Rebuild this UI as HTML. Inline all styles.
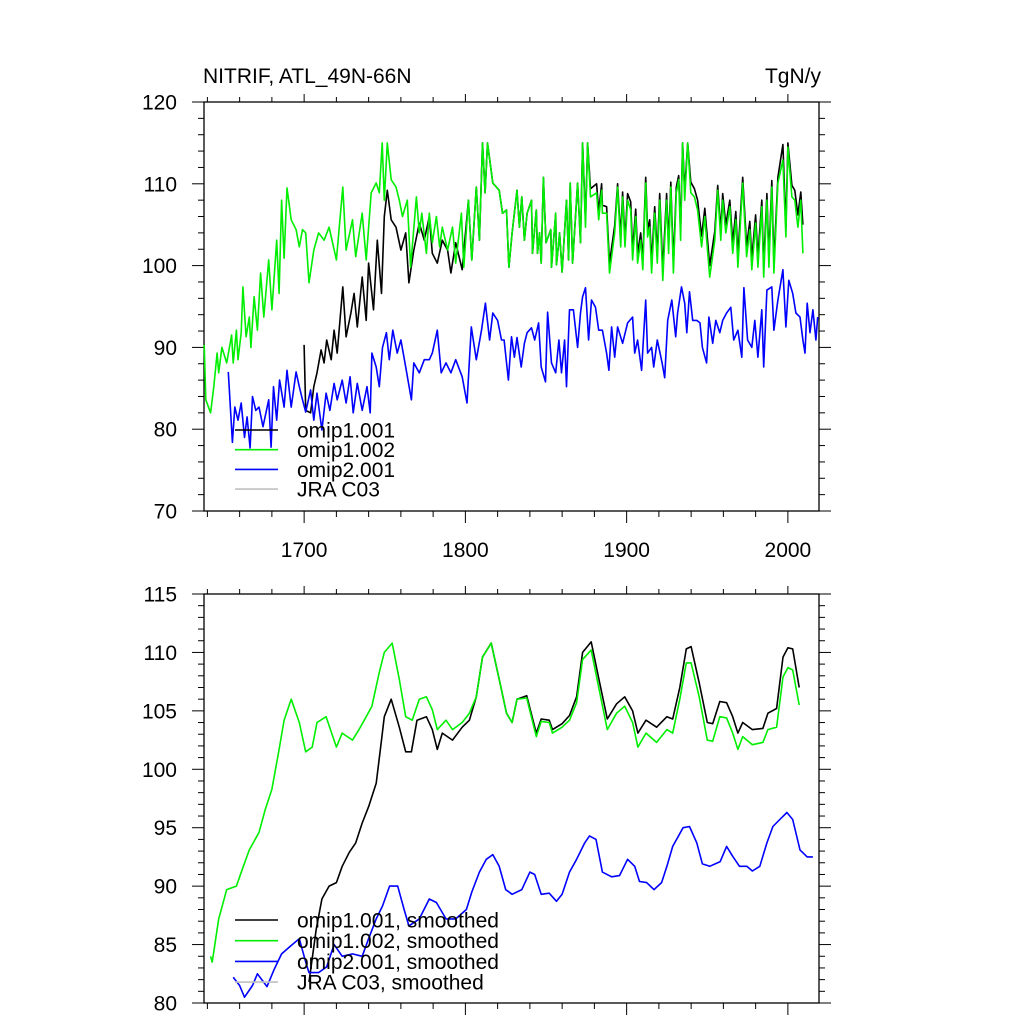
<!DOCTYPE html>
<html><head><meta charset="utf-8"><style>
html,body{margin:0;padding:0;background:#fff;}
svg{display:block;font-family:"Liberation Sans",Arial,sans-serif;}
</style></head><body>
<svg id="chart" width="1024" height="1024" viewBox="0 0 1024 1024" xmlns="http://www.w3.org/2000/svg">
<rect x="0" y="0" width="1024" height="1024" fill="#fff"/>
<text x="203" y="83" font-size="21">NITRIF, ATL_49N-66N</text>
<text x="821" y="83" font-size="21" text-anchor="end">TgN/y</text>
<g id="top"></g>
<g id="bot"></g>
</svg>
<script>
// ---- Top panel data (annual) ----
const topGreenYears = [1638,1639,1642,1644,1646,1647,1649,1652,1655,1656,1658,1659,1661,1662,1664,1666,1667,1669,1671,1673,1675,1678,1680,1683,1684.5,1686,1687.6,1689.4,1692,1695,1697,1699,1701,1703,1706,1709,1712.4,1715.5,1720,1724,1726,1730,1732,1736,1738.5,1741.6,1744.7,1746.6,1748.4,1749.7,1751.6,1754,1757,1759,1761,1764,1766,1769.6,1771.4,1773,1775.8,1777.6,1779.5,1782,1784,1785.7,1789,1792,1794,1797.5,1799,1801.9,1804,1806.8,1808.7,1810.6,1812.2,1813.7,1817,1821,1823,1825.5,1827,1829,1832,1833.5,1835,1836.6,1838.3,1841,1841.6,1844,1844.7,1846,1847,1848.4,1850,1853,1853.4,1856,1856.5,1858.4,1860,1862.7,1864,1865,1866.5,1869.6,1871.4,1872.7,1874.5,1875.8,1877.6,1881.4,1882.7,1884.5,1885,1887.6,1889.4,1892.6,1894.4,1896.3,1897.5,1899,1900.6,1902.5,1903.7,1905.6,1906.8,1908.7,1910,1911.8,1913,1914.3,1915.5,1917.4,1919,1920.5,1922.4,1924.8,1926,1927.4,1929,1930.8,1932.3,1933.5,1934.7,1936,1937.9,1939.8,1942,1944,1946.5,1948.5,1951.5,1954.7,1956.5,1958.4,1959.6,1961.5,1964,1965.8,1967.7,1969,1972,1974.4,1976.4,1977.6,1980,1981.4,1983.8,1985,1987,1988.2,1990,1991.3,1993.8,1996.9,1998.8,2000,2002.5,2004.3,2006.2,2008,2009.3];
const topGreenVals = [90.3,83.6,82.0,85.2,89.3,86.9,90.0,88.1,91.5,88.1,92.1,88.5,91.8,97.4,91.3,93.7,90.0,96.2,92.1,99.1,93.7,100.7,94.6,103.1,96.6,108.0,100.9,109.5,105.6,104.4,102.3,104.4,104.0,97.9,101.9,104.0,103.1,104.7,100.7,109.6,101.9,105.6,101.1,106.4,100.7,108.9,110.1,108.9,115.0,108.0,115.0,110.5,109.6,108.0,106.0,108.0,99.8,108.4,104.0,106.4,101.5,106.4,102.8,106.0,102.3,104.7,101.9,104.7,100.3,106.4,99.8,108.0,100.7,109.6,103.1,115.0,108.9,115.0,110.1,109.2,106.4,106.8,99.8,104.0,109.2,104.7,108.4,103.1,106.4,108.0,101.5,106.8,101.5,104.0,100.3,110.8,102.8,104.4,99.8,106.4,100.1,104.0,99.2,108.0,100.7,110.1,100.3,110.1,102.8,115.0,104.7,115.0,108.4,108.9,105.6,109.2,106.4,106.4,99.1,104.0,109.6,102.3,108.4,102.3,108.0,106.8,100.7,106.0,100.3,103.1,99.5,110.1,103.5,104.7,99.1,106.4,100.3,108.0,98.2,108.0,101.5,109.6,99.1,108.9,110.5,103.1,115.0,108.0,115.0,108.9,108.4,106.8,102.3,106.0,98.6,103.1,109.2,103.1,108.0,104.0,107.2,101.5,105.6,99.8,110.1,101.1,104.4,99.5,105.2,99.8,107.2,98.6,108.0,99.8,109.6,99.1,110.1,112.9,103.5,114.5,108.4,108.0,104.7,108.0,101.5];
const topBlackYears = [1700,1701,1704,1706,1708,1710.5,1712.4,1714,1716.8,1718.6,1720.5,1724,1726,1729,1731,1733,1736,1738.5,1740,1743,1745.4,1748,1749.7,1751.6,1754,1757,1760,1763,1765,1768,1771.4,1774.5,1777.6,1779.5,1782.6,1785.7,1789,1791,1794,1798,1801.9,1804,1806.8,1808.7,1810.6,1812.2,1813.7,1817,1821,1823,1825.5,1827,1829,1832,1833.5,1835,1836.6,1838.3,1841,1841.6,1844,1844.7,1846,1847,1848.4,1850,1853,1853.4,1856,1856.5,1858.4,1860,1862.7,1864,1865,1866.5,1869.6,1871.4,1872.7,1874.5,1875.8,1877.6,1881.4,1882.7,1884.5,1885,1887.6,1889.4,1892.6,1894.4,1896.3,1897.5,1899,1900.6,1902.5,1903.7,1905.6,1906.8,1908.7,1910,1911.8,1913,1914.3,1915.5,1917.4,1919,1920.5,1922.4,1924.8,1926,1927.4,1929,1930.8,1932.3,1933.5,1934.7,1936,1937.9,1939.8,1942,1944,1946.5,1948.5,1951.5,1954.7,1956.5,1958.4,1959.6,1961.5,1964,1965.8,1967.7,1969,1972,1974.4,1976.4,1977.6,1980,1981.4,1983.8,1985,1987,1988.2,1990,1991.3,1993.8,1996.9,1998.8,2000,2002.5,2004.3,2006.2,2008,2009.3];
const topBlackVals = [90.3,82.3,82.0,85.2,86.9,89.7,88.1,90.9,88.5,92.1,89.3,97.4,91.3,94.2,96.6,92.5,98.6,93.3,100.3,94.6,103.1,96.6,106.0,109.2,105.6,104.7,101.9,104.0,97.9,101.9,105.2,103.1,106.0,101.5,100.3,103.1,101.9,99.1,102.8,99.5,108.0,100.7,109.6,103.1,115.0,108.9,115.0,110.1,109.2,106.4,106.8,99.8,104.0,109.2,104.7,108.4,103.1,106.4,108.0,101.5,106.8,101.5,104.0,100.3,110.8,102.8,104.4,99.8,106.4,100.1,104.0,99.2,108.0,100.7,110.1,100.3,110.1,102.8,115.0,105.5,115.0,109.4,110.0,106.6,110.0,107.4,107.2,100.3,104.9,110.0,103.4,109.0,103.2,108.8,107.8,101.8,106.9,101.5,104.0,100.6,110.8,104.4,105.6,100.4,107.2,101.5,108.8,99.5,108.8,102.6,110.2,100.3,109.6,111.0,104.2,115.0,109.2,115.0,110.2,109.4,108.0,103.6,107.0,100.0,104.2,109.8,104.2,108.8,105.0,108.0,102.8,106.6,101.2,110.8,102.4,105.4,100.8,106.2,101.0,108.0,100.0,108.8,101.0,110.4,100.4,110.8,114.8,104.6,115.0,109.8,109.2,106.2,109.0,105.0];
const topBlueYears = [1653,1655.5,1657,1659,1661,1663,1664.6,1666.5,1668,1670,1672,1674.5,1678,1679.5,1681,1683,1684.8,1687.6,1689.4,1692,1695,1697,1699,1701,1704,1706,1708,1711,1713.6,1716,1718.6,1720.5,1723.6,1726,1728.5,1730.4,1733,1736,1739,1741,1742,1744.7,1746.6,1748.6,1751,1752.8,1755,1757.7,1760,1763,1766.5,1768,1771.4,1774.5,1777.6,1779.5,1782.6,1785,1788,1791,1794,1798,1801,1803.7,1806.8,1810,1812.4,1815,1817,1820,1822.4,1824,1826.7,1828.6,1830.4,1832,1834.6,1836.6,1838.3,1841,1843,1845.4,1847,1849.7,1851,1853.4,1856,1858,1859.6,1861.5,1862.7,1864.6,1867,1869.6,1871.4,1872.7,1874.5,1876.4,1878.2,1880.7,1882.7,1885,1887.6,1889,1890.7,1892.6,1894.4,1897.5,1900.6,1903.7,1905,1906.8,1909.3,1911.8,1913,1915.5,1916.8,1919,1922,1923.6,1925.5,1928,1930.4,1931.6,1934,1936,1937.3,1939,1941,1943.5,1945.5,1947,1949.6,1951,1953.4,1955.3,1957.8,1959.6,1962,1964.6,1966.4,1969,1971.4,1972.7,1975,1977.6,1979.5,1981.4,1983.8,1985,1987,1990,1991.3,1993.8,1996.9,1998.8,2000.6,2003,2005,2007.5,2009.3,2010.6,2012,2013.7,2015.5,2017.4,2018.5];
const topBlueVals = [87.0,78.4,82.7,81.1,83.2,79.0,81.5,77.7,84.0,82.3,82.7,80.3,83.6,77.8,85.2,81.1,86.0,82.7,87.2,82.7,87.0,85.2,83.6,82.1,84.8,81.1,84.4,79.9,84.4,82.3,85.6,83.6,86.0,83.2,86.4,82.0,85.6,82.3,85.2,82.0,89.3,87.6,85.2,90.0,91.8,88.5,92.1,89.3,90.9,87.6,83.6,88.1,86.9,88.5,88.5,89.3,92.1,86.9,88.1,86.9,88.5,86.4,83.2,92.5,88.5,92.1,95.4,90.9,94.2,93.3,90.9,90.9,86.0,91.3,88.8,91.2,87.6,90.5,91.8,92.4,90.9,93.0,87.6,85.8,94.3,88.1,86.9,90.9,86.9,90.9,85.2,94.6,94.6,90.0,94.2,96.2,97.3,90.9,95.8,94.9,92.1,92.1,89.3,87.2,92.5,88.8,92.5,90.5,93.0,93.7,89.3,90.9,87.2,95.8,89.3,90.0,87.6,90.9,88.1,86.3,93.3,95.8,91.3,94.2,97.4,95.4,91.8,96.8,93.3,93.3,93.0,90.0,88.1,93.7,90.5,93.3,91.8,93.3,94.2,94.9,90.9,92.1,88.8,97.3,90.9,90.0,93.3,88.8,94.6,87.6,97.0,97.4,92.1,95.8,99.5,92.5,98.2,96.6,94.2,93.7,90.9,89.3,95.4,91.8,94.6,90.9,93.7];

// ---- Bottom panel data (smoothed) ----
const botGreenYears = [1642,1643,1647,1652,1658,1661.5,1666,1672,1676,1680,1684.5,1687.6,1692,1697,1701,1705,1708,1713.6,1720,1723.6,1730,1734,1738.5,1742,1746.6,1749.7,1754.6,1759,1763,1767,1771.4,1775.8,1779.5,1782.6,1788,1792,1798,1802.5,1806.8,1810.6,1816,1821,1825.5,1829,1832,1838,1844,1847,1852,1854,1860,1864.6,1869,1872.7,1878,1883,1888,1893.8,1898.8,1903.7,1907,1912,1918.6,1925,1928.6,1933,1937,1940,1945,1950,1953.4,1957.8,1962,1965.8,1969,1972,1978,1984.5,1987.6,1993,1997,2000,2003,2007];
const botGreenVals = [84.0,83.5,87.2,89.7,90.0,91.4,93.1,94.6,96.6,98.3,101.7,104.2,106.0,104.0,101.5,101.9,104.0,104.5,101.9,103.1,102.5,103.4,104.5,105.4,108.3,110.0,110.8,107.7,104.5,104.2,106.0,106.2,105.1,103.4,104.2,103.4,104.0,104.8,106.2,109.6,110.8,107.7,104.8,104.0,106.0,106.1,102.8,104.1,104.0,103.1,103.6,104.2,105.7,109.4,110.2,106.8,103.4,104.8,105.4,104.0,101.9,103.1,102.3,103.4,103.1,106.0,109.1,109.1,106.2,102.5,102.4,104.5,104.4,103.1,101.7,102.8,102.1,102.3,103.4,103.6,107.9,108.7,108.5,105.5];
const botBlackYears = [1703,1707.5,1711,1715.5,1720,1723.6,1728,1732,1736,1740,1744.7,1748,1749.7,1754,1759,1763,1766.5,1770,1775.8,1779.5,1782.6,1785.7,1792,1798,1802.5,1806.8,1810.6,1816,1821,1825.5,1829,1832,1838,1844,1847,1852,1854,1860,1864.6,1869,1872.7,1878,1883,1888,1893.8,1898.8,1903.7,1907,1912,1918.6,1925,1928.6,1933,1937,1940,1945,1950,1953.4,1957.8,1962,1965.8,1969,1972,1978,1984.5,1987.6,1993,1997,2000,2003,2007];
const botBlackVals = [81.8,86.3,88.9,90.0,90.3,91.7,92.9,93.7,95.4,96.8,98.8,102.5,104.5,106.0,103.6,101.5,101.5,104.2,104.5,103.4,101.7,103.1,102.5,103.6,104.2,106.2,109.6,110.8,107.7,104.8,104.0,106.0,106.3,103.1,104.3,104.2,103.4,103.9,104.6,106.2,110.0,110.9,107.6,104.3,105.6,106.2,105.0,103.1,104.2,103.6,104.5,104.3,107.0,110.3,110.5,107.4,104.0,103.9,105.8,105.7,104.5,103.1,104.0,103.4,103.5,104.8,105.2,109.6,110.4,110.3,107.0];
const botBlueYears = [1656,1660,1663,1668,1671,1677,1681.5,1686,1691,1697,1701,1703,1709,1714,1718.6,1723.6,1730,1736,1740,1744.7,1748.6,1753,1758,1762,1765,1771.4,1777.6,1782,1788,1794,1800.6,1804,1808.7,1813,1817,1821,1825,1829,1835,1840,1843,1847,1852,1856.5,1860,1864.6,1869,1874,1877,1881,1885,1890.7,1895.6,1900.6,1905,1908,1912.4,1917,1921.7,1925,1928.6,1935,1939,1943.5,1947,1951.5,1958,1962,1966,1970,1974.5,1978,1982.6,1987,1990.7,1995,1999.4,2003,2007.5,2012,2015.5];
const botBlueVals = [82.2,81.5,80.5,81.5,82.5,81.4,82.9,84.2,84.8,85.5,83.5,82.6,82.6,83.1,85.0,84.0,84.2,84.0,85.5,87.2,88.3,90.0,90.0,88.0,86.6,87.2,88.9,88.6,87.2,87.2,88.0,89.5,91.2,92.3,92.7,91.7,89.7,89.3,89.7,91.2,91.0,89.3,89.4,88.7,89.3,91.2,92.3,93.7,94.3,94.0,91.2,90.8,90.9,92.3,91.7,90.4,90.3,89.7,90.3,91.7,93.4,95.0,95.1,93.7,91.9,91.7,92.1,93.4,92.5,91.7,91.7,91.3,91.7,93.7,95.1,95.7,96.3,95.7,93.1,92.5,92.5];

// tick labels
const xTickLabels = ["1700","1800","1900","2000"];
const topYTicks = [70,80,90,100,110,120];
const botYTicks = [80,85,90,95,100,105,110,115];
const legendTop = ["omip1.001","omip1.002","omip2.001","JRA C03"];
const legendBot = ["omip1.001, smoothed","omip1.002, smoothed","omip2.001, smoothed","JRA C03, smoothed"];

const NS = "http://www.w3.org/2000/svg";
const L = 204, R = 819, X0 = 1637.9, X1 = 2019.3;
function xs(yr){ return L + (yr - X0) * (R - L) / (X1 - X0); }
function mk(tag, attrs, parent){ const e = document.createElementNS(NS, tag); for (const k in attrs) e.setAttribute(k, attrs[k]); parent.appendChild(e); return e; }

function panel(g, top, bot, ymin, ymax, ytks, yminor, showX){
  const ys = v => bot - (v - ymin) * (bot - top) / (ymax - ymin);
  const fr = mk('rect', {x:L, y:top, width:R-L, height:bot-top, fill:'none', stroke:'#000', 'stroke-width':1.3}, g);
  
  
  for (let yr = 1640; yr <= 2019; yr += 20){
    const major = yr % 100 === 0;
    const len = major ? 12 : 6;
    const x = xs(yr);
    const t1 = mk('line', {x1:x, x2:x, y1:bot, y2:bot+len, stroke:'#000', 'stroke-width':1}, g);
    
    
    const t2 = mk('line', {x1:x, x2:x, y1:top, y2:top-(major?8:5), stroke:'#000', 'stroke-width':1}, g);
    
    
  }
  if (showX){
    xTickLabels.forEach(s => {
      const t = mk('text', {x:xs(+s), y:bot+46, 'font-size':21, 'text-anchor':'middle'}, g);
      t.textContent = s;
      
      
    });
  }
  for (let v = ymin; v <= ymax + 1e-6; v += yminor){
    const major = ytks.some(t => Math.abs(t - v) < 1e-6);
    const len = major ? 12 : 6;
    const y = ys(v);
    const a = mk('line', {x1:L, x2:L-len, y1:y, y2:y, stroke:'#000', 'stroke-width':1}, g);
    
    
    const b = mk('line', {x1:R, x2:R+len, y1:y, y2:y, stroke:'#000', 'stroke-width':1}, g);
    
    
  }
  ytks.forEach(v => {
    const t = mk('text', {x:177, y:ys(v)+7.5, 'font-size':21, 'text-anchor':'end'}, g);
    t.textContent = String(v);
    
    
  });
  return ys;
}
function series(g, yrs, vals, ys, color, name){
  const d = yrs.map((yr, i) => (i ? 'L' : 'M') + xs(yr).toFixed(1) + ' ' + ys(vals[i]).toFixed(1)).join(' ');
  const p = mk('path', {d:d, fill:'none', stroke:color, 'stroke-width':1.6, 'stroke-linejoin':'round'}, g);
  
  
}
function legend(g, labels, y0, dy){
  const cols = ['#000', '#00ee00', '#0000ff', '#c0c0c0'];
  labels.forEach((s, i) => {
    const y = y0 + i * dy;
    const l = mk('line', {x1:235, x2:278, y1:y, y2:y, stroke:cols[i], 'stroke-width':1.6}, g);
    
    
    const t = mk('text', {x:297, y:y+7.5, 'font-size':21}, g);
    t.textContent = s;
    
    
  });
}

const gt = document.getElementById('top');
const yt = panel(gt, 102, 511, 70, 120, topYTicks, 2, true);
series(gt, topBlackYears, topBlackVals, yt, '#000', 'line-omip1-001');
series(gt, topGreenYears, topGreenVals, yt, '#00ee00', 'line-omip1-002');
series(gt, topBlueYears, topBlueVals, yt, '#0000ff', 'line-omip2-001');
legend(gt, legendTop, 430, 19.7);

const gb = document.getElementById('bot');
const yb = panel(gb, 594, 1003, 80, 115, botYTicks, 1, false);
series(gb, botBlackYears, botBlackVals, yb, '#000', 'line-omip1-001-smoothed');
series(gb, botGreenYears, botGreenVals, yb, '#00ee00', 'line-omip1-002-smoothed');
series(gb, botBlueYears, botBlueVals, yb, '#0000ff', 'line-omip2-001-smoothed');
legend(gb, legendBot, 920, 20.7);
</script>
</body></html>
